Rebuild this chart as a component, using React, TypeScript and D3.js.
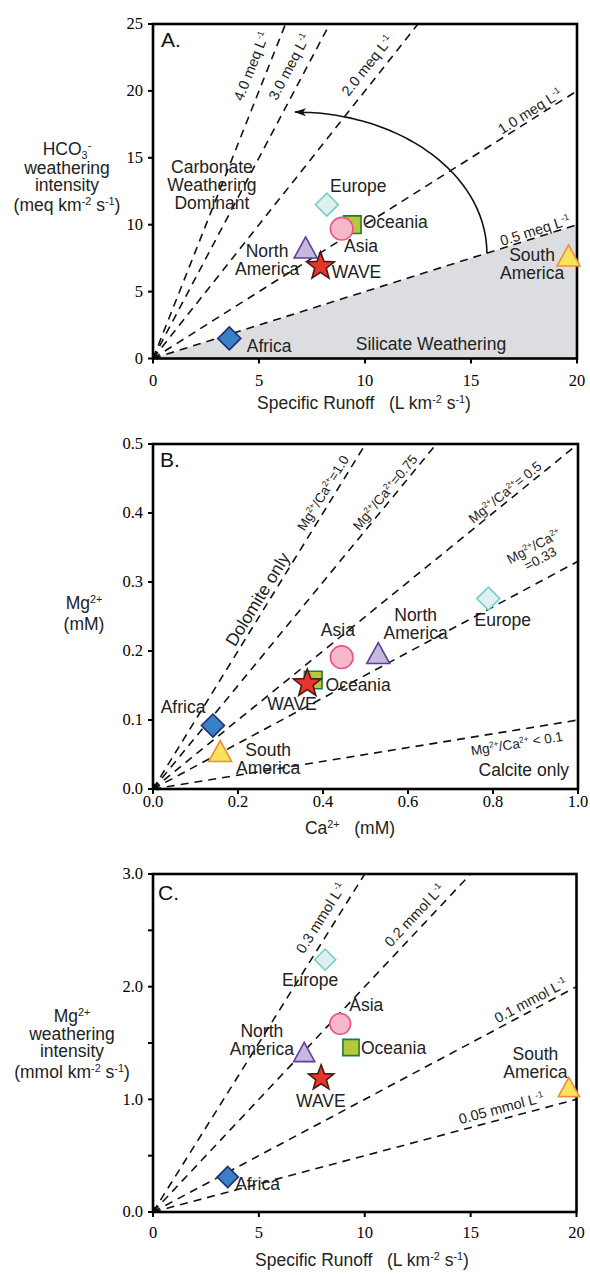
import React from 'react';
import * as d3 from 'd3';

// ---------- DATA ----------
const regions = ['Africa', 'Europe', 'Oceania', 'Asia', 'North America', 'South America', 'WAVE'];

// Panel A: specific runoff vs HCO3- weathering intensity
const runoffA = [3.6, 8.2, 9.4, 8.9, 7.2, 19.6, 7.9];
const hco3A = [1.5, 11.5, 10.0, 9.7, 8.3, 7.7, 7.0];

// Panel B: Ca2+ vs Mg2+
const caB = [0.141, 0.789, 0.377, 0.444, 0.53, 0.158, 0.363];
const mgB = [0.092, 0.276, 0.158, 0.191, 0.197, 0.055, 0.155];

// Panel C: specific runoff vs Mg2+ weathering intensity
const runoffC = [3.53, 8.13, 9.35, 8.84, 7.14, 19.64, 7.94];
const mgC = [0.31, 2.24, 1.46, 1.67, 1.42, 1.11, 1.2];

// reference lines
const concLinesA = [0.5, 1.0, 2.0, 3.0, 4.0];
const concLabelsA = ['0.5 meq L^{-1}', '1.0 meq L^{-1}', '2.0 meq L^{-1}', '3.0 meq L^{-1}', '4.0 meq L^{-1}'];
const ratioLinesB = [0.1, 0.33, 0.5, 0.75, 1.0];
const concLinesC = [0.05, 0.1, 0.2, 0.3];
const concLabelsC = ['0.05 mmol L^{-1}', '0.1 mmol L^{-1}', '0.2 mmol L^{-1}', '0.3 mmol L^{-1}'];

// ticks
const ticksAx = [0, 5, 10, 15, 20];
const ticksAy = [0, 5, 10, 15, 20, 25];
const ticksBx = [0, 0.2, 0.4, 0.6, 0.8, 1.0];
const ticksBy = [0, 0.1, 0.2, 0.3, 0.4, 0.5];
const ticksCx = [0, 5, 10, 15, 20];
const ticksCy = [0, 1, 2, 3];
const ticksCyMinor = [0.5, 1.5, 2.5];

// ---------- STYLE ----------
const SANS = "'Liberation Sans', Arial, Helvetica, sans-serif";
const SERIF = "'Liberation Serif', 'Times New Roman', serif";
const LABEL_FS = 17.5;
const TICK_FS = 16.5;
const LINE_FS = 14.5;

const markerStyle: Record<string, { shape: string; fill: string; stroke: string }> = {
  Africa: { shape: 'diamond', fill: '#3a80c8', stroke: '#1d2f6e' },
  Europe: { shape: 'diamond', fill: '#def1ef', stroke: '#74cfd0' },
  Oceania: { shape: 'square', fill: '#b6c83a', stroke: '#1d7d3c' },
  Asia: { shape: 'circle', fill: '#f4b8c9', stroke: '#e9528c' },
  'North America': { shape: 'triangle', fill: '#c6b8de', stroke: '#5b3f98' },
  'South America': { shape: 'triangle', fill: '#f8e45c', stroke: '#f28b3b' },
  WAVE: { shape: 'star', fill: '#e9342b', stroke: '#4a1a1a' },
};

function shapePath(shape: string, cx: number, cy: number, s: number): string {
  if (shape === 'diamond') {
    const h = 11.5 * s;
    return `M${cx},${cy - h}L${cx + h},${cy}L${cx},${cy + h}L${cx - h},${cy}Z`;
  }
  if (shape === 'square') {
    const h = 8.8 * s;
    return `M${cx - h},${cy - h}H${cx + h}V${cy + h}H${cx - h}Z`;
  }
  if (shape === 'circle') {
    const r = 11.3 * s;
    return `M${cx + r},${cy}A${r},${r} 0 1 1 ${cx - r},${cy}A${r},${r} 0 1 1 ${cx + r},${cy}Z`;
  }
  if (shape === 'triangle') {
    const w = 23 * s, h = 21 * s;
    return `M${cx},${cy - h / 2}L${cx + w / 2},${cy + h / 2}L${cx - w / 2},${cy + h / 2}Z`;
  }
  // star
  const R = 14.5 * s, r = R * 0.42;
  const pts: string[] = [];
  for (let i = 0; i < 10; i++) {
    const a = -Math.PI / 2 + (i * Math.PI) / 5;
    const rr = i % 2 === 0 ? R : r;
    pts.push(`${cx + rr * Math.cos(a)},${cy + 1.5 * s + rr * Math.sin(a)}`);
  }
  return 'M' + pts.join('L') + 'Z';
}

function rich(s: string, fs: number) {
  const parts = s.split(/(\^\{[^}]*\}|_\{[^}]*\})/).filter((p) => p !== '');
  let cur = 0;
  const out = parts.map((p, i) => {
    let target = 0, size = fs, txt = p;
    if (p.startsWith('^{')) { target = -0.36 * fs; size = fs * 0.62; txt = p.slice(2, -1); }
    else if (p.startsWith('_{')) { target = 0.24 * fs; size = fs * 0.62; txt = p.slice(2, -1); }
    const dy = target - cur;
    cur = target;
    return <tspan key={i} dy={dy} fontSize={size}>{txt}</tspan>;
  });
  return out;
}

type Scale = d3.ScaleLinear<number, number>;

function Axes({ x, y, xTicks, yTicks, yMinor = [], fmtX, fmtY, tickDy }: {
  x: Scale; y: Scale; xTicks: number[]; yTicks: number[]; yMinor?: number[];
  fmtX: (v: number) => string; fmtY: (v: number) => string; tickDy: number;
}) {
  const x0 = x.range()[0], y0 = y.range()[0];
  return (
    <g>
      {[...yTicks, ...yMinor].map((t, i) => (
        <line key={'yt' + i} x1={x0 - 5} x2={x0} y1={y(t)} y2={y(t)} stroke="#000" strokeWidth={2} />
      ))}
      {yTicks.map((t, i) => (
        <text key={'yl' + i} x={x0 - 10} y={y(t) + TICK_FS * 0.33} textAnchor="end"
          fontFamily={SERIF} fontSize={TICK_FS}>{fmtY(t)}</text>
      ))}
      {xTicks.map((t, i) => (
        <line key={'xt' + i} x1={x(t)} x2={x(t)} y1={y0} y2={y0 + 5} stroke="#000" strokeWidth={2} />
      ))}
      {xTicks.map((t, i) => (
        <text key={'xl' + i} x={x(t)} y={y0 + tickDy} textAnchor="middle"
          fontFamily={SERIF} fontSize={TICK_FS}>{fmtX(t)}</text>
      ))}
    </g>
  );
}

function Frame({ x, y }: { x: Scale; y: Scale }) {
  const [x0, x1] = x.range();
  const [y0, y1] = y.range();
  return <rect x={x0} y={y1} width={x1 - x0} height={y0 - y1} fill="none" stroke="#000" strokeWidth={2.6} />;
}

function RefLines({ x, y, slopes }: { x: Scale; y: Scale; slopes: number[] }) {
  const [, xmax] = x.domain();
  const [, ymax] = y.domain();
  return (
    <g>
      {slopes.map((s, i) => {
        const xe = Math.min(xmax, ymax / s);
        const ye = s * xe;
        return (
          <line key={i} x1={x(0)} y1={y(0)} x2={x(xe)} y2={y(ye)} stroke="#111" strokeWidth={1.6}
            strokeDasharray="8,6" markerStart="url(#originArrow)" />
        );
      })}
    </g>
  );
}

function lineAngle(x: Scale, y: Scale, s: number) {
  const dx = x(1) - x(0);
  const dy = y(0) - y(s);
  return (Math.atan2(dy, dx) * 180) / Math.PI;
}

function LineLabel({ x, y, s, px, py, text, fs = LINE_FS, second }: {
  x: Scale; y: Scale; s: number; px: number; py: number; text: string; fs?: number; second?: string;
}) {
  const ang = lineAngle(x, y, s);
  return (
    <g transform={`translate(${x(px)},${y(py)}) rotate(${-ang})`}>
      <text textAnchor="middle" y={fs * 0.35} fontFamily={SANS} fontSize={fs} fill="#222">{rich(text, fs)}</text>
      {second && (
        <text textAnchor="middle" y={fs * 0.35 + 14} fontFamily={SANS} fontSize={fs} fill="#222">{rich(second, fs)}</text>
      )}
    </g>
  );
}

function Markers({ x, y, xs, ys, s = 1 }: { x: Scale; y: Scale; xs: number[]; ys: number[]; s?: number }) {
  return (
    <g>
      {regions.map((r, i) => {
        const st = markerStyle[r];
        return <path key={r} d={shapePath(st.shape, x(xs[i]), y(ys[i]), s)} fill={st.fill}
          stroke={st.stroke} strokeWidth={1.6} strokeLinejoin="miter" />;
      })}
    </g>
  );
}

type PtLabel = { lines: string[]; x: number; y: number; anchor: 'start' | 'middle' | 'end' };

function PointLabels({ x, y, labels }: { x: Scale; y: Scale; labels: PtLabel[] }) {
  return (
    <g>
      {labels.map((l, i) => (
        <text key={i} x={x(l.x)} y={y(l.y)} textAnchor={l.anchor} fontFamily={SANS} fontSize={LABEL_FS} fill="#222">
          {l.lines.map((t, j) => (
            <tspan key={j} x={x(l.x)} dy={j === 0 ? 0 : 18}>{t}</tspan>
          ))}
        </text>
      ))}
    </g>
  );
}

function TitleY({ cx, baselines, lines }: { cx: number; baselines: number[]; lines: string[] }) {
  return (
    <g>
      {lines.map((t, i) => (
        <text key={i} x={cx} y={baselines[i]} textAnchor="middle" fontFamily={SANS} fontSize={LABEL_FS}
          fill="#222" style={{ whiteSpace: 'pre' }}>{rich(t, LABEL_FS)}</text>
      ))}
    </g>
  );
}

// ---------- LAYOUT (annotation positions in data units) ----------
const labelsA: PtLabel[] = [
  { lines: ['Africa'], x: 4.42, y: 0.52, anchor: 'start' },
  { lines: ['Europe'], x: 8.35, y: 12.43, anchor: 'start' },
  { lines: ['Oceania'], x: 9.89, y: 9.73, anchor: 'start' },
  { lines: ['Asia'], x: 9.01, y: 7.93, anchor: 'start' },
  { lines: ['North', 'America'], x: 5.38, y: 7.56, anchor: 'middle' },
  { lines: ['WAVE'], x: 8.43, y: 5.99, anchor: 'start' },
  { lines: ['South', 'America'], x: 17.88, y: 7.26, anchor: 'middle' },
  { lines: ['Carbonate', 'Weathering', 'Dominant'], x: 2.78, y: 13.86, anchor: 'middle' },
  { lines: ['Silicate Weathering'], x: 13.11, y: 0.67, anchor: 'middle' },
];
const lineLabelPosA = [[18.02, 9.58], [17.78, 18.49], [10.1, 21.9], [6.42, 21.8], [4.63, 21.85]];

const labelsB: PtLabel[] = [
  { lines: ['Africa'], x: 0.0706, y: 0.11, anchor: 'middle' },
  { lines: ['South', 'America'], x: 0.271, y: 0.0478, anchor: 'middle' },
  { lines: ['WAVE'], x: 0.327, y: 0.1145, anchor: 'middle' },
  { lines: ['Oceania'], x: 0.406, y: 0.142, anchor: 'start' },
  { lines: ['Asia'], x: 0.435, y: 0.222, anchor: 'middle' },
  { lines: ['North', 'America'], x: 0.618, y: 0.243, anchor: 'middle' },
  { lines: ['Europe'], x: 0.823, y: 0.236, anchor: 'middle' },
  { lines: ['Calcite only'], x: 0.979, y: 0.0188, anchor: 'end' },
];

const labelsC: PtLabel[] = [
  { lines: ['Europe'], x: 7.42, y: 2.005, anchor: 'middle' },
  { lines: ['Asia'], x: 9.27, y: 1.783, anchor: 'start' },
  { lines: ['North', 'America'], x: 5.14, y: 1.553, anchor: 'middle' },
  { lines: ['Oceania'], x: 9.82, y: 1.402, anchor: 'start' },
  { lines: ['WAVE'], x: 7.93, y: 0.932, anchor: 'middle' },
  { lines: ['South', 'America'], x: 18.06, y: 1.349, anchor: 'middle' },
  { lines: ['Africa'], x: 3.88, y: 0.195, anchor: 'start' },
];
const lineLabelPosC = [[16.45, 0.923], [17.83, 1.88], [12.34, 2.635], [7.92, 2.61]];

export default function App() {
  // scales
  const xA = d3.scaleLinear().domain([0, 20]).range([153, 577]);
  const yA = d3.scaleLinear().domain([0, 25]).range([358.5, 24]);
  const xB = d3.scaleLinear().domain([0, 1]).range([153, 578]);
  const yB = d3.scaleLinear().domain([0, 0.5]).range([789, 444]);
  const xC = d3.scaleLinear().domain([0, 20]).range([153, 576.5]);
  const yC = d3.scaleLinear().domain([0, 3]).range([1212, 874]);

  const fmtInt = d3.format('d');
  const fmt1 = d3.format('.1f');

  // silicate area under lowest line
  const sMin = concLinesA[0];
  const area = [[0, 0], [20, 0], [20, 20 * sMin]];
  const areaPath = d3.line<number[]>().x((d) => xA(d[0])).y((d) => yA(d[1]))(area) + 'Z';

  // curved arrow (quarter ellipse) from the 0.5 line towards higher concentrations
  const arcCx = 6.7, arcCy = 7.87, arcRx = 9.05, arcRy = 10.55;
  const arcPts = d3.range(0, 41).map((i) => {
    const t = (i / 40) * (Math.PI / 2);
    return [arcCx + arcRx * Math.cos(t), arcCy + arcRy * Math.sin(t)];
  });
  const arcPath = d3.line<number[]>().x((d) => xA(d[0])).y((d) => yA(d[1])).curve(d3.curveBasis)(arcPts) || '';

  return (
    <svg width={590} height={1275} style={{ position: 'absolute', left: 0, top: 0, background: '#fff' }}>
      <defs>
        <marker id="originArrow" viewBox="0 0 10 10" refX={10} refY={5} markerWidth={6} markerHeight={5}
          markerUnits="userSpaceOnUse" orient="auto-start-reverse">
          <path d="M0,0L10,5L0,10Z" fill="#111" />
        </marker>
        <marker id="arcArrow" viewBox="0 0 12 8" refX={11} refY={4} markerWidth={12} markerHeight={8}
          markerUnits="userSpaceOnUse" orient="auto">
          <path d="M0,0L12,4L0,8L3,4Z" fill="#111" />
        </marker>
      </defs>

      {/* ================= Panel A ================= */}
      <g>
        <path d={areaPath} fill="#dcdde0" />
        <RefLines x={xA} y={yA} slopes={concLinesA} />
        <path d={arcPath} fill="none" stroke="#111" strokeWidth={1.6} markerEnd="url(#arcArrow)" />
        {concLinesA.map((s, i) => (
          <LineLabel key={i} x={xA} y={yA} s={s} px={lineLabelPosA[i][0]} py={lineLabelPosA[i][1]} text={concLabelsA[i]} />
        ))}
        <Frame x={xA} y={yA} />
        <Axes x={xA} y={yA} xTicks={ticksAx} yTicks={ticksAy} fmtX={fmtInt} fmtY={fmtInt} tickDy={27} />
        <Markers x={xA} y={yA} xs={runoffA} ys={hco3A} />
        <PointLabels x={xA} y={yA} labels={labelsA} />
        <text x={161} y={47} fontFamily={SANS} fontSize={21} fill="#111">A.</text>
        <TitleY cx={67} baselines={[155, 174, 191, 211]}
          lines={['HCO_{3}^{-}', 'weathering', 'intensity', '(meq km^{-2} s^{-1})']} />
        <text x={364} y={409} textAnchor="middle" fontFamily={SANS} fontSize={LABEL_FS} fill="#222"
          style={{ whiteSpace: 'pre' }}>{rich('Specific Runoff   (L km^{-2} s^{-1})', LABEL_FS)}</text>
      </g>

      {/* ================= Panel B ================= */}
      <g>
        <RefLines x={xB} y={yB} slopes={ratioLinesB} />
        <LineLabel x={xB} y={yB} s={1.0} px={0.246} py={0.275} text="Dolomite only" fs={LABEL_FS} />
        <LineLabel x={xB} y={yB} s={1.0} px={0.40} py={0.429} text="Mg^{2+}/Ca^{2+}=1.0" fs={13.5} />
        <LineLabel x={xB} y={yB} s={0.75} px={0.546} py={0.43} text="Mg^{2+}/Ca^{2+}=0.75" fs={13.5} />
        <LineLabel x={xB} y={yB} s={0.5} px={0.828} py={0.43} text="Mg^{2+}/Ca^{2+}= 0.5" fs={13.5} />
        <LineLabel x={xB} y={yB} s={0.33} px={0.896} py={0.352} text="Mg^{2+}/Ca^{2+}" second="=0.33" fs={13.5} />
        <LineLabel x={xB} y={yB} s={0.1} px={0.856} py={0.066} text="Mg^{2+}/Ca^{2+} < 0.1" fs={13.5} />
        <Frame x={xB} y={yB} />
        <Axes x={xB} y={yB} xTicks={ticksBx} yTicks={ticksBy} fmtX={fmt1} fmtY={fmt1} tickDy={18} />
        <Markers x={xB} y={yB} xs={caB} ys={mgB} />
        <PointLabels x={xB} y={yB} labels={labelsB} />
        <text x={160} y={467} fontFamily={SANS} fontSize={21} fill="#111">B.</text>
        <TitleY cx={84} baselines={[609, 630]} lines={['Mg^{2+}', '(mM)']} />
        <text x={350} y={834} textAnchor="middle" fontFamily={SANS} fontSize={LABEL_FS} fill="#222"
          style={{ whiteSpace: 'pre' }}>{rich('Ca^{2+}   (mM)', LABEL_FS)}</text>
      </g>

      {/* ================= Panel C ================= */}
      <g>
        <RefLines x={xC} y={yC} slopes={concLinesC} />
        {concLinesC.map((s, i) => (
          <LineLabel key={i} x={xC} y={yC} s={s} px={lineLabelPosC[i][0]} py={lineLabelPosC[i][1]} text={concLabelsC[i]} />
        ))}
        <Frame x={xC} y={yC} />
        <Axes x={xC} y={yC} xTicks={ticksCx} yTicks={ticksCy} yMinor={ticksCyMinor} fmtX={fmtInt} fmtY={fmt1} tickDy={26} />
        <Markers x={xC} y={yC} xs={runoffC} ys={mgC} s={0.92} />
        <PointLabels x={xC} y={yC} labels={labelsC} />
        <text x={158} y={900} fontFamily={SANS} fontSize={21} fill="#111">C.</text>
        <TitleY cx={72} baselines={[1022, 1040, 1057, 1078]}
          lines={['Mg^{2+}', 'weathering', 'intensity', '(mmol km^{-2} s^{-1})']} />
        <text x={362} y={1266} textAnchor="middle" fontFamily={SANS} fontSize={LABEL_FS} fill="#222"
          style={{ whiteSpace: 'pre' }}>{rich('Specific Runoff   (L km^{-2} s^{-1})', LABEL_FS)}</text>
      </g>
    </svg>
  );
}
